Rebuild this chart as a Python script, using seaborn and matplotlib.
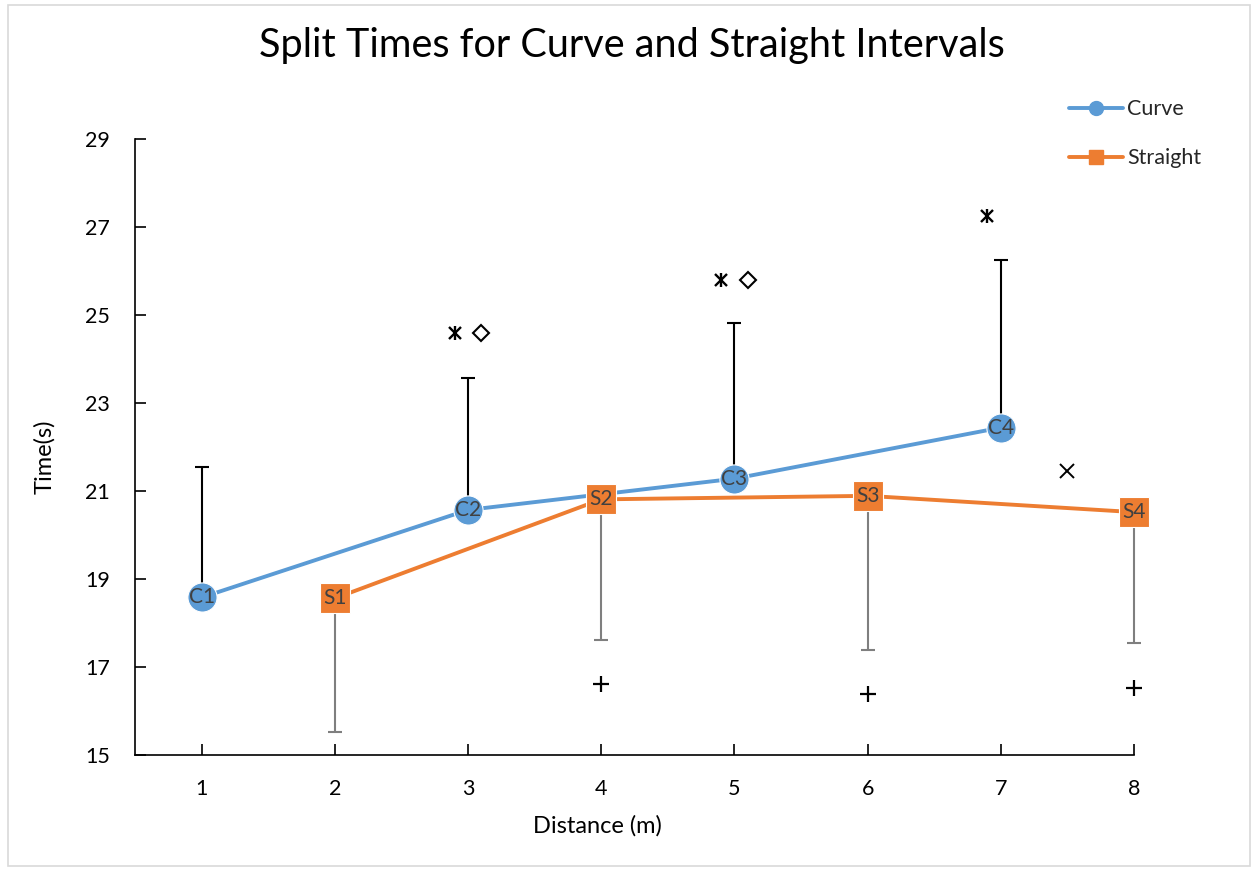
import matplotlib
matplotlib.use("Agg")
import matplotlib.pyplot as plt
import seaborn as sns
import pandas as pd
import numpy as np
from matplotlib.lines import Line2D
from matplotlib.patches import Rectangle

# ---- data ----
curve_x = [1, 3, 5, 7]
curve_y = [18.58, 20.57, 21.28, 22.44]
curve_err = [2.97, 3.0, 3.53, 3.81]
curve_labels = ["C1", "C2", "C3", "C4"]

straight_x = [2, 4, 6, 8]
straight_y = [18.56, 20.81, 20.89, 20.52]
straight_err = [3.04, 3.2, 3.5, 2.98]
straight_labels = ["S1", "S2", "S3", "S4"]

asterisk_x = [2.9, 4.9, 6.9]
asterisk_y = [24.58, 25.8, 27.25]
diamond_x = [3.1, 5.1]
diamond_y = [24.58, 25.8]
plus_x = [4, 6, 8]
plus_y = [16.61, 16.39, 16.53]
cross_x = [7.5]
cross_y = [21.45]

x_ticks = [1, 2, 3, 4, 5, 6, 7, 8]
y_ticks = [15, 17, 19, 21, 23, 25, 27, 29]

BLUE = "#5B9BD5"
ORANGE = "#ED7D31"

sns.set_theme(style="white")
plt.rcParams["font.family"] = ["Lato", "DejaVu Sans"]

fig = plt.figure(figsize=(12.58, 8.71), dpi=100)
ax = fig.add_axes([135 / 1258, 1 - 755 / 871, (1134 - 135) / 1258, (755 - 139) / 871])

# border
fig.patches.append(Rectangle((8 / 1258, 5 / 871), 1242 / 1258, 861 / 871,
                             transform=fig.transFigure, fill=False,
                             edgecolor="#D9D9D9", linewidth=1.2))

df = pd.DataFrame({
    "x": curve_x + straight_x,
    "y": curve_y + straight_y,
    "series": ["Curve"] * 4 + ["Straight"] * 4,
})

# error bars (behind)
eb1 = ax.errorbar(curve_x, curve_y, yerr=[np.zeros(4), curve_err], fmt="none",
                  ecolor="black", elinewidth=1.5, capsize=5, capthick=1.5, zorder=1)
eb2 = ax.errorbar(straight_x, straight_y, yerr=[straight_err, np.zeros(4)], fmt="none",
                  ecolor="#7F7F7F", elinewidth=1.5, capsize=5, capthick=1.5, zorder=1)
for eb in (eb1, eb2):
    for art in eb.lines[1] + eb.lines[2]:
        art.set_clip_on(False)

sns.lineplot(data=df, x="x", y="y", hue="series", style="series",
             palette={"Curve": BLUE, "Straight": ORANGE},
             markers={"Curve": "o", "Straight": "s"}, dashes=False,
             linewidth=2.8, markersize=21, markeredgewidth=0.8,
             markeredgecolor="white", legend=False, ax=ax, zorder=3)
for ln in ax.lines:
    ln.set_clip_on(False)

for x, y, t in zip(curve_x + straight_x, curve_y + straight_y, curve_labels + straight_labels):
    ax.text(x, y, t, ha="center", va="center", color="#404040", fontsize=15, zorder=5)

# extra markers
ax.plot(asterisk_x, asterisk_y, ls="none", marker="x", ms=9, mew=1.7, color="black", zorder=4)
ax.plot(asterisk_x, asterisk_y, ls="none", marker="|", ms=10, mew=1.7, color="black", zorder=4)
ax.plot(diamond_x, diamond_y, ls="none", marker="D", ms=8, mew=1.5, mfc="white", mec="black", zorder=4)
ax.plot(plus_x, plus_y, ls="none", marker="+", ms=11, mew=1.6, color="black", zorder=4,
        clip_on=False)
ax.plot(cross_x, cross_y, ls="none", marker="x", ms=10, mew=1.4, color="black", zorder=4)

ax.set_xlim(0.5, 8)
ax.set_ylim(15, 29)
ax.set_xticks(x_ticks)
ax.set_yticks(y_ticks)
ax.tick_params(axis="both", direction="in", length=8, width=1.2, colors="black",
               labelsize=15.5, labelcolor="black", bottom=True, left=True)
ax.tick_params(axis="x", pad=17)
ax.tick_params(axis="y", pad=18)
for s in ["top", "right"]:
    ax.spines[s].set_visible(False)
for s in ["left", "bottom"]:
    ax.spines[s].set_color("black")
    ax.spines[s].set_linewidth(1.2)

ax.set_xlabel("Distance (m)", fontsize=17, color="black")
ax.set_ylabel("Time(s)", fontsize=17, color="black")
ax.xaxis.set_label_coords(0.463, -0.098)
ax.yaxis.set_label_coords(-0.08, 0.484)

fig.text(632 / 1258, 1 - 45 / 871, "Split Times for Curve and Straight Intervals",
         ha="center", va="center", fontsize=28.5, color="black")

handles = [
    Line2D([], [], color=BLUE, lw=2.8, marker="o", ms=10),
    Line2D([], [], color=ORANGE, lw=2.8, marker="s", ms=10),
]
fig.legend(handles, ["Curve", "Straight"], loc="upper left",
           bbox_to_anchor=(1050 / 1258, 1 - 80 / 871), frameon=False,
           fontsize=15.5, handlelength=2.5, handletextpad=0.2, labelspacing=1.35)

fig.savefig("out.png", dpi=100)
